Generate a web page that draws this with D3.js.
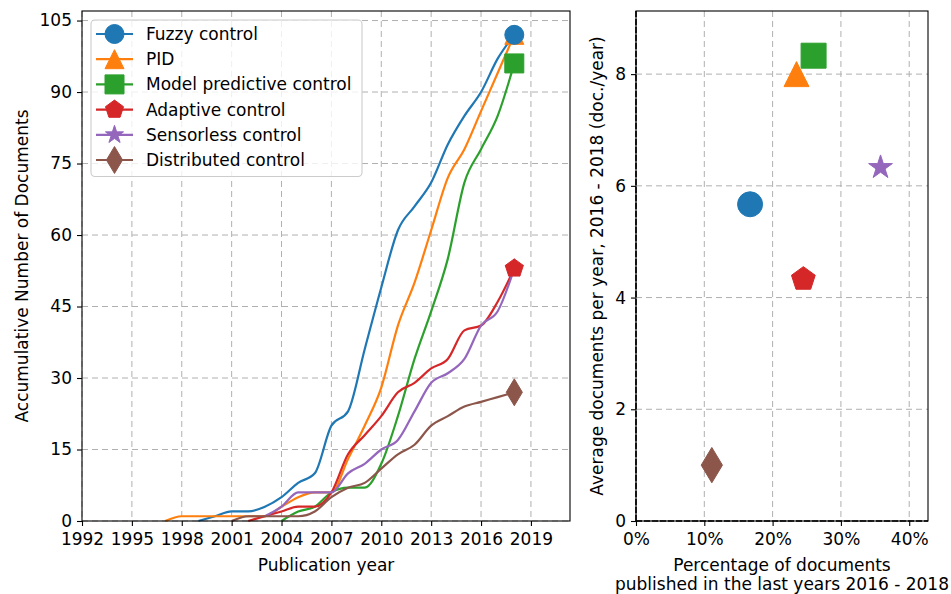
<!DOCTYPE html>
<html>
<head>
<meta charset="utf-8">
<script src="https://cdn.jsdelivr.net/npm/d3@7"></script>
<style>
  body { margin: 0; background: #fff; }
  svg { display: block; font-family: "DejaVu Sans", sans-serif; }
</style>
</head>
<body>
<svg id="chart" width="951" height="594"></svg>
<script>
// Research topics, their colours and marker shapes
const topics = ["Fuzzy control", "PID", "Model predictive control", "Adaptive control", "Sensorless control", "Distributed control"];
const topicColors = ["#1f77b4", "#ff7f0e", "#2ca02c", "#d62728", "#9467bd", "#8c564b"];
const topicMarkers = ["circle", "triangle", "square", "pentagon", "star", "thinDiamond"];

// First year of each cumulative series (values then run yearly up to 2018)
const firstYear = [1999, 1997, 2004, 2002, 2003, 2001];

// Accumulative number of documents per year
const fuzzyDocs       = [0, 1, 2, 2, 3, 5, 8, 10, 20, 23, 36, 49, 61, 66, 71, 79, 85, 90, 97, 102];
const pidDocs         = [0, 1, 1, 1, 1, 1, 1, 3, 5, 6, 6, 13, 20, 28, 41, 50, 61, 72, 78, 86, 94, 102];
const mpcDocs         = [0, 2, 3, 6, 7, 7, 12, 22, 34, 44, 55, 71, 78, 85, 96];
const adaptiveDocs    = [0, 1, 2, 3, 3, 6, 14, 18, 22, 27, 29, 32, 34, 40, 41, 46, 53];
const sensorlessDocs  = [1, 3, 6, 6, 6, 10, 12, 15, 17, 23, 29, 31, 34, 41, 44, 53];
const distributedDocs = [0, 1, 1, 1, 1, 2, 5, 7, 8, 11, 14, 16, 20, 22, 24, 25, 26, 27];
const cumulativeDocs = [fuzzyDocs, pidDocs, mpcDocs, adaptiveDocs, sensorlessDocs, distributedDocs];

// Share of documents published 2016 - 2018 (%) and average documents per year in that span
const recentShare = [16.7, 23.5, 26.0, 24.5, 35.8, 11.1];
const recentRate  = [5.67, 8.0, 8.33, 4.33, 6.33, 1.0];

// Tick values
const yearTicks  = [1992, 1995, 1998, 2001, 2004, 2007, 2010, 2013, 2016, 2019];
const countTicks = [0, 15, 30, 45, 60, 75, 90, 105];
const shareTicks = [0, 10, 20, 30, 40];
const rateTicks  = [0, 2, 4, 6, 8];

const svg = d3.select("#chart");
const FONT = 17;
const GRID = "#b0b0b0";

// ---------- marker shapes ----------
function markerPath(type, size) {
  const h = size / 2;
  const poly = pts => "M" + pts.map(p => p[0].toFixed(2) + "," + p[1].toFixed(2)).join("L") + "Z";
  switch (type) {
    case "circle":
      return `M${h},0A${h},${h} 0 1,1 ${-h},0A${h},${h} 0 1,1 ${h},0Z`;
    case "triangle":
      return poly([[0, -h], [h, h], [-h, h]]);
    case "square":
      return poly([[-h, -h], [h, -h], [h, h], [-h, h]]);
    case "pentagon":
      return poly(d3.range(5).map(k => {
        const a = -Math.PI / 2 + k * 2 * Math.PI / 5;
        return [h * Math.cos(a), h * Math.sin(a)];
      }));
    case "star":
      return poly(d3.range(10).map(k => {
        const a = -Math.PI / 2 + k * Math.PI / 5;
        const r = k % 2 === 0 ? h : h * 0.381966;
        return [r * Math.cos(a), r * Math.sin(a)];
      }));
    case "thinDiamond": {
      const dy = size * Math.SQRT2 / 2, dx = dy * 0.6;
      return poly([[0, -dy], [dx, 0], [0, dy], [-dx, 0]]);
    }
  }
}

function drawMarker(g, i, x, y, size) {
  g.append("path")
    .attr("d", markerPath(topicMarkers[i], size))
    .attr("transform", `translate(${x},${y})`)
    .attr("fill", topicColors[i])
    .attr("stroke", topicColors[i])
    .attr("stroke-width", 1)
    .attr("stroke-linejoin", "miter");
}

function styleAxis(g) {
  g.select(".domain").remove();
  g.selectAll(".tick line").attr("stroke", "#000").attr("stroke-width", 1.1);
  g.selectAll(".tick text").attr("fill", "#000").style("font-size", FONT + "px")
    .style("font-family", '"DejaVu Sans", sans-serif');
}

// ---------- left panel: accumulative documents ----------
const L = { left: 82, right: 570, top: 11, bottom: 521 };
const xYear = d3.scaleLinear().domain([1992, 2021.35]).range([L.left, L.right]);
const yCount = d3.scaleLinear().domain([0, 107]).range([L.bottom, L.top]);

const left = svg.append("g");

// grid
left.append("g").selectAll("line").data(yearTicks).join("line")
  .attr("x1", d => xYear(d)).attr("x2", d => xYear(d))
  .attr("y1", L.top).attr("y2", L.bottom)
  .attr("stroke", GRID).attr("stroke-width", 1).attr("stroke-dasharray", "6,4");
left.append("g").selectAll("line").data(countTicks).join("line")
  .attr("x1", L.left).attr("x2", L.right)
  .attr("y1", d => yCount(d)).attr("y2", d => yCount(d))
  .attr("stroke", GRID).attr("stroke-width", 1).attr("stroke-dasharray", "6,4");

// series lines
const line = d3.line().x(d => xYear(d.year)).y(d => yCount(d.value)).curve(d3.curveMonotoneX);
const seriesPoints = cumulativeDocs.map((vals, i) => vals.map((v, k) => ({ year: firstYear[i] + k, value: v })));

left.append("g").selectAll("path").data(seriesPoints).join("path")
  .attr("d", line)
  .attr("fill", "none")
  .attr("stroke", (d, i) => topicColors[i])
  .attr("stroke-width", 2.2)
  .attr("stroke-linejoin", "round")
  .attr("stroke-linecap", "butt");

// markers on the final year, first topic drawn on top
const endMarks = left.append("g");
for (let i = seriesPoints.length - 1; i >= 0; i--) {
  const last = seriesPoints[i][seriesPoints[i].length - 1];
  drawMarker(endMarks, i, xYear(last.year), yCount(last.value), 19);
}

// axes
left.append("g").attr("transform", `translate(0,${L.bottom})`)
  .call(d3.axisBottom(xYear).tickValues(yearTicks).tickFormat(d3.format("d")).tickSize(5).tickPadding(7))
  .call(styleAxis);
left.append("g").attr("transform", `translate(${L.left},0)`)
  .call(d3.axisLeft(yCount).tickValues(countTicks).tickFormat(d3.format("d")).tickSize(5).tickPadding(5))
  .call(styleAxis);

left.append("rect")
  .attr("x", L.left).attr("y", L.top)
  .attr("width", L.right - L.left).attr("height", L.bottom - L.top)
  .attr("fill", "none").attr("stroke", "#000").attr("stroke-width", 1.1);

left.append("text")
  .attr("x", (L.left + L.right) / 2).attr("y", 571)
  .attr("text-anchor", "middle").style("font-size", FONT + "px")
  .text("Publication year");
left.append("text")
  .attr("transform", `translate(28,${(L.top + L.bottom) / 2}) rotate(-90)`)
  .attr("text-anchor", "middle").style("font-size", FONT + "px")
  .text("Accumulative Number of Documents");

// legend
const legend = left.append("g");
legend.append("rect")
  .attr("x", 91).attr("y", 20).attr("width", 271).attr("height", 156.5)
  .attr("rx", 4).attr("ry", 4)
  .attr("fill", "#fff").attr("fill-opacity", 0.8)
  .attr("stroke", "#cccccc").attr("stroke-width", 1.1);
topics.forEach((name, i) => {
  const cy = 34 + i * 25.2;
  legend.append("line")
    .attr("x1", 96).attr("x2", 133).attr("y1", cy).attr("y2", cy)
    .attr("stroke", topicColors[i]).attr("stroke-width", 2.2);
  drawMarker(legend, i, 114.5, cy, 19);
  legend.append("text")
    .attr("x", 146).attr("y", cy).attr("dy", "0.35em")
    .style("font-size", FONT + "px")
    .text(name);
});

// ---------- right panel: recent activity ----------
const R = { left: 636, right: 928, top: 11, bottom: 521 };
const xShare = d3.scaleLinear().domain([0, 42.75]).range([R.left, R.right]);
const yRate = d3.scaleLinear().domain([0, 9.13]).range([R.bottom, R.top]);

const right = svg.append("g");

right.append("g").selectAll("line").data(shareTicks).join("line")
  .attr("x1", d => xShare(d)).attr("x2", d => xShare(d))
  .attr("y1", R.top).attr("y2", R.bottom)
  .attr("stroke", GRID).attr("stroke-width", 1).attr("stroke-dasharray", "6,4");
right.append("g").selectAll("line").data(rateTicks).join("line")
  .attr("x1", R.left).attr("x2", R.right)
  .attr("y1", d => yRate(d)).attr("y2", d => yRate(d))
  .attr("stroke", GRID).attr("stroke-width", 1).attr("stroke-dasharray", "6,4");

right.append("g").attr("transform", `translate(0,${R.bottom})`)
  .call(d3.axisBottom(xShare).tickValues(shareTicks).tickFormat(d => d + "%").tickSize(5).tickPadding(7))
  .call(styleAxis);
right.append("g").attr("transform", `translate(${R.left},0)`)
  .call(d3.axisLeft(yRate).tickValues(rateTicks).tickFormat(d3.format("d")).tickSize(5).tickPadding(5))
  .call(styleAxis);

right.append("rect")
  .attr("x", R.left).attr("y", R.top)
  .attr("width", R.right - R.left).attr("height", R.bottom - R.top)
  .attr("fill", "none").attr("stroke", "#000").attr("stroke-width", 1.1);

// dashed reference lines at zero
right.append("line")
  .attr("x1", R.left).attr("x2", R.right).attr("y1", yRate(0)).attr("y2", yRate(0))
  .attr("stroke", "#000").attr("stroke-width", 1.6).attr("stroke-dasharray", "6,2");
right.append("line")
  .attr("x1", xShare(0)).attr("x2", xShare(0)).attr("y1", R.top).attr("y2", R.bottom)
  .attr("stroke", "#000").attr("stroke-width", 1.6).attr("stroke-dasharray", "6,2");

const pts = right.append("g");
topics.forEach((name, i) => {
  drawMarker(pts, i, xShare(recentShare[i]), yRate(recentRate[i]), 25);
});

right.append("text")
  .attr("x", (R.left + R.right) / 2).attr("y", 571)
  .attr("text-anchor", "middle").style("font-size", FONT + "px")
  .text("Percentage of documents");
right.append("text")
  .attr("x", (R.left + R.right) / 2).attr("y", 590)
  .attr("text-anchor", "middle").style("font-size", FONT + "px")
  .text("published in the last years 2016 - 2018");
right.append("text")
  .attr("transform", `translate(603,${(R.top + R.bottom) / 2}) rotate(-90)`)
  .attr("text-anchor", "middle").style("font-size", FONT + "px")
  .text("Average documents per year, 2016 - 2018 (doc./year)");
</script>
</body>
</html>
